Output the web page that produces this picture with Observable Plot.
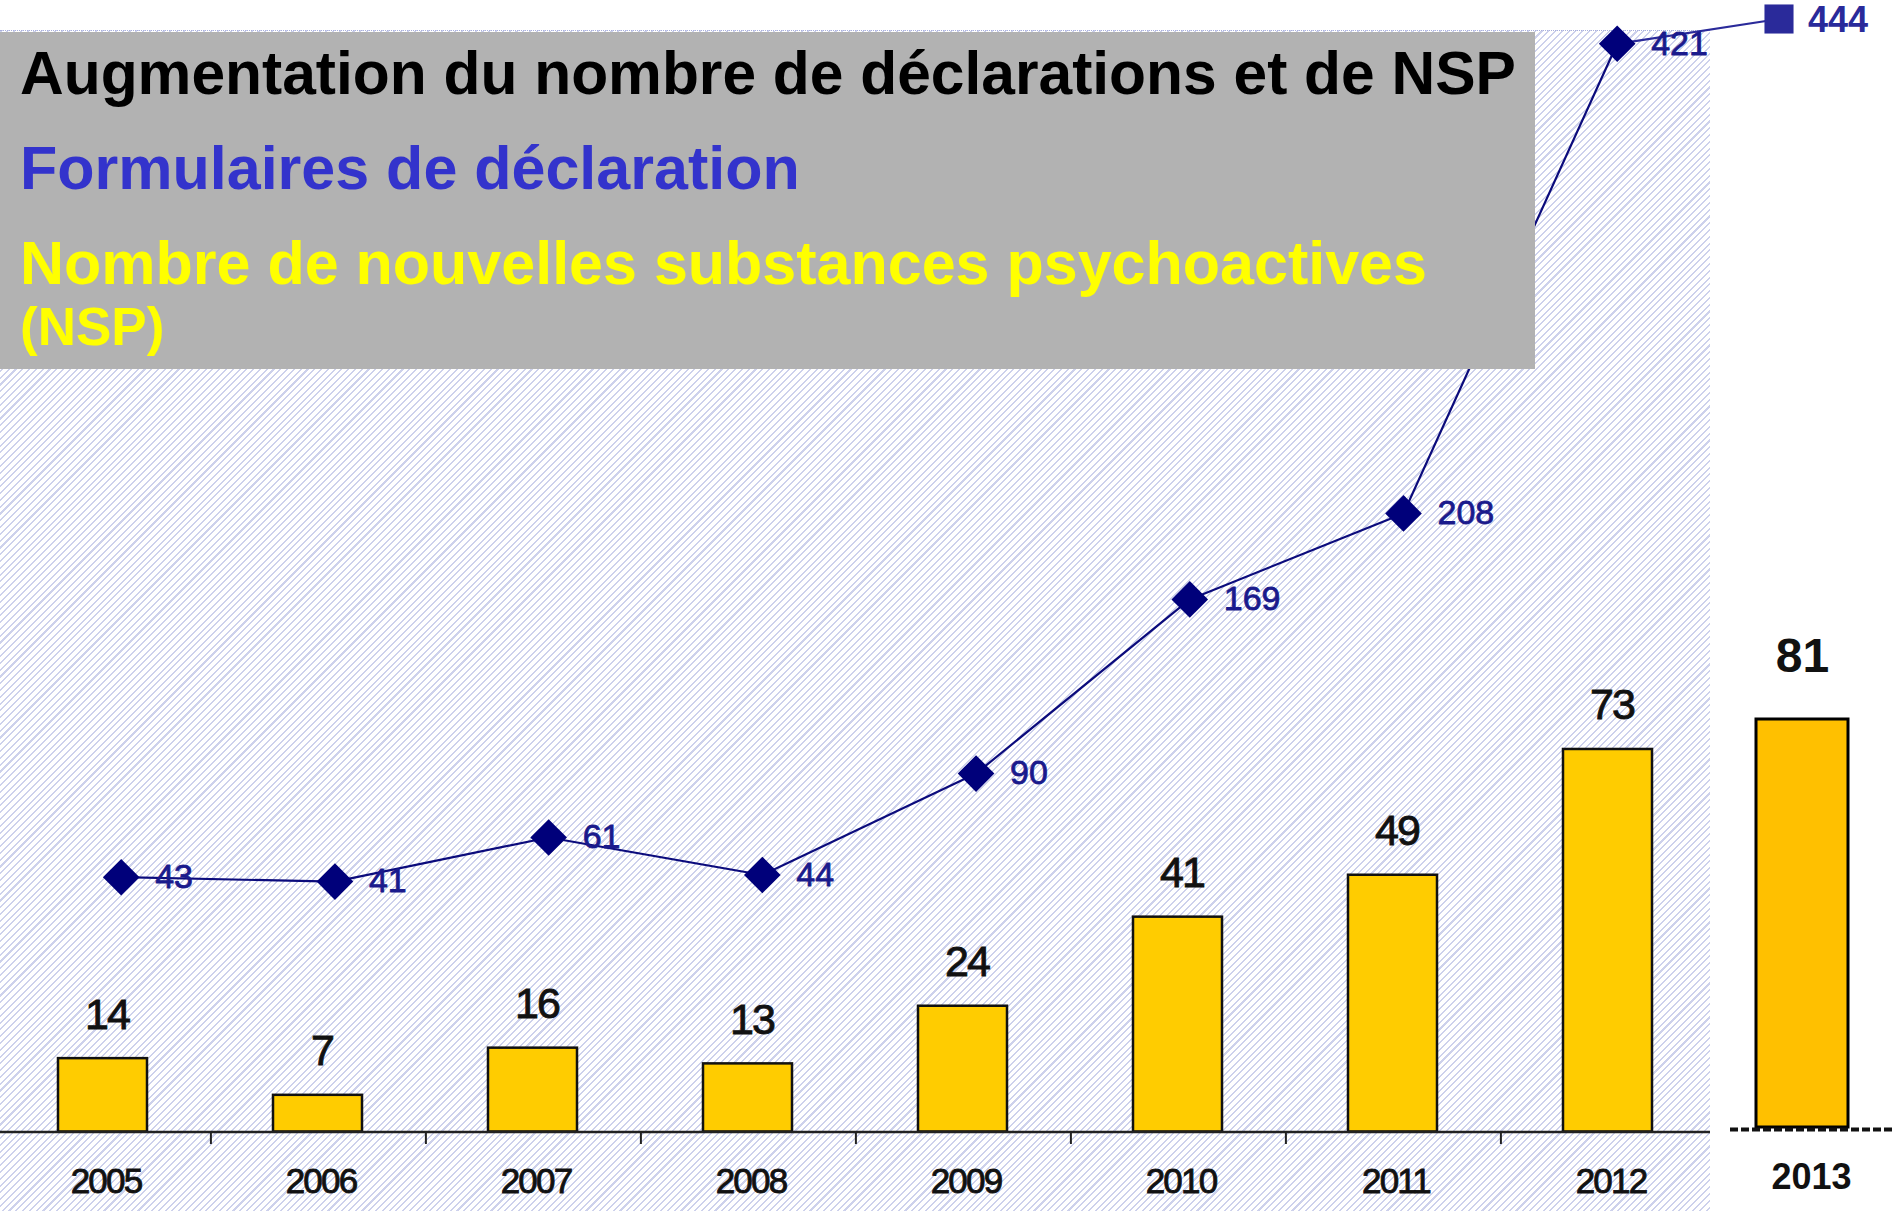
<!DOCTYPE html>
<html><head><meta charset="utf-8">
<script src="https://cdn.jsdelivr.net/npm/d3@7"></script>
<script src="https://cdn.jsdelivr.net/npm/@observablehq/plot@0.6"></script>
<style>
html,body{margin:0;padding:0;background:#fff;}
#wrap{position:relative;width:1895px;height:1211px;overflow:hidden;font-family:"Liberation Sans",Arial,sans-serif;}
#hatch{position:absolute;left:0;top:30px;width:1710px;height:1181px;
  background:repeating-linear-gradient(135deg,#cdd1ec 0px,#cdd1ec 1.5px,#ffffff 1.5px,#ffffff 4.8px);
  border-top:1px dotted #a9b0dc;}
#wrap svg{position:absolute;left:0;top:0;overflow:visible;}
#titlebox{position:absolute;left:0;top:32px;width:1535px;height:337px;background:#b2b2b2;}
.t{position:absolute;left:20px;font-weight:bold;line-height:1;white-space:nowrap;font-family:"Liberation Sans",Arial,sans-serif;}
</style></head><body>
<div id="wrap"><div id="hatch"></div></div>
<script>
// ---- data ----
const years = ["2005","2006","2007","2008","2009","2010","2011","2012"];
const nsp = [14, 7, 16, 13, 24, 41, 49, 73];            // nouvelles substances psychoactives
const declarations = [43, 41, 61, 44, 90, 169, 208, 421]; // formulaires de déclaration
const year2013 = "2013";
const nsp2013 = 81;
const declarations2013 = 444;
const titleLines = [
  "Augmentation du nombre de déclarations et de NSP",
  "Formulaires de déclaration",
  "Nombre de nouvelles substances psychoactives",
  "(NSP)"
];

const font = "Liberation Sans, Arial, Helvetica, sans-serif";
const wrap = document.getElementById("wrap");

// ---- Plot A: NSP bars 2005-2012 ----
const bars = years.map((y, i) => ({year: y, value: nsp[i]}));
const plotA = Plot.plot({
  width: 1710, height: 1211,
  marginLeft: 0, marginRight: 0, marginTop: 0, marginBottom: 80,
  style: {background: "transparent", overflow: "visible", fontFamily: font},
  x: {type: "band", domain: years, range: [-8, 1718.4], padding: 0, axis: null},
  y: {domain: [0, 100], range: [1131.5, 607.5], axis: null},
  marks: [
    Plot.barY(bars, {x: "year", y: "value", fill: "#FFCC00", stroke: "#111", strokeWidth: 2.5, insetLeft: 63, insetRight: 63}),
    Plot.ruleY([0], {stroke: "#222", strokeWidth: 2.5}),
    Plot.axisX({ticks: years.slice(0, -1), tickSize: 13, fill: "none", label: null, dx: 107.9, stroke: "#222", strokeWidth: 2}),
    Plot.axisX({tickSize: 0, tickPadding: 37, fontSize: 35, fill: "#111", label: null, dx: 3}),
    Plot.text(bars, {x: "year", y: "value", text: d => String(d.value), lineAnchor: "bottom", dy: -30, dx: 4, fontSize: 43, fill: "#111"})
  ]
});
d3.select(plotA).selectAll("text")
  .attr("letter-spacing", "-1.8")
  .attr("stroke", "#111").attr("stroke-width", 0.9).attr("paint-order", "stroke");
wrap.appendChild(plotA);

// ---- Plot B: declarations line ----
const pts = years.map((y, i) => ({year: +y, value: declarations[i]}));
const last = {year: +year2013, value: declarations2013};
const plotB = Plot.plot({
  width: 1895, height: 1211, margin: 0,
  style: {background: "transparent", overflow: "visible", fontFamily: font},
  x: {type: "linear", domain: [2005, 2012, 2013], range: [120.7, 1616.7, 1778.5], axis: null},
  y: {type: "linear", domain: [0, 421, 444], range: [971.5, 43.3, 18.5], axis: null},
  marks: [
    Plot.line(pts, {x: "year", y: "value", stroke: "#0b0b7c", strokeWidth: 2.2}),
    Plot.line([pts[pts.length - 1], last], {x: "year", y: "value", stroke: "#2a2a9a", strokeWidth: 2.2}),
    Plot.dot(pts, {x: "year", y: "value", symbol: "diamond2", r: 16.5, fill: "#00007a", stroke: "none"}),
    Plot.dot([last], {x: "year", y: "value", symbol: "square", r: 16.4, fill: "#2a2a9a", stroke: "none"}),
    Plot.text(pts, {x: "year", y: "value", text: d => String(d.value), dx: 34, textAnchor: "start", fontSize: 34, fill: "#1a1a8c", stroke: "#1a1a8c", strokeWidth: 0.8}),
    Plot.text([last], {x: "year", y: "value", text: d => String(d.value), dx: 29, dy: 1.5, textAnchor: "start", fontSize: 36, fontWeight: "bold", fill: "#2a2a9a"})
  ]
});
wrap.appendChild(plotB);

// ---- title box ----
const box = document.createElement("div");
box.id = "titlebox";
wrap.appendChild(box);
const titleSpecs = [
  {size: 60.5, top: 43, color: "#000000"},
  {size: 61, top: 138, color: "#3333cc"},
  {size: 61, top: 233, color: "#ffff00"},
  {size: 53, top: 300, color: "#ffff00"}
];
titleLines.forEach((txt, i) => {
  const d = document.createElement("div");
  d.className = "t";
  d.textContent = txt;
  d.style.fontSize = titleSpecs[i].size + "px";
  d.style.top = titleSpecs[i].top + "px";
  d.style.color = titleSpecs[i].color;
  wrap.appendChild(d);
});

// ---- Plot C: 2013 inset ----
const bar2013 = [{year: year2013, value: nsp2013}];
const plotC = Plot.plot({
  width: 1895, height: 1211,
  marginLeft: 1730, marginRight: 0, marginTop: 0, marginBottom: 1211 - 1128,
  style: {background: "transparent", overflow: "visible", fontFamily: font},
  x: {type: "band", domain: [year2013], range: [1755.7, 1847.7], padding: 0, axis: null},
  y: {domain: [0, nsp2013], range: [1127, 719], axis: null},
  marks: [
    Plot.barY(bar2013, {x: "year", y: "value", fill: "#FFC000", stroke: "#000", strokeWidth: 3}),
    Plot.ruleY([0], {stroke: "#111", strokeWidth: 4, strokeDasharray: "8,3", dy: 2}),
    Plot.axisX({tickSize: 0, tickPadding: 35, fontSize: 36, fontWeight: "bold", fill: "#111", label: null, dx: 9}),
    Plot.text(bar2013, {x: "year", y: "value", text: d => String(d.value), lineAnchor: "bottom", dy: -48, fontSize: 48, fontWeight: "bold", fill: "#111"})
  ]
});
wrap.appendChild(plotC);
</script>
</body></html>
